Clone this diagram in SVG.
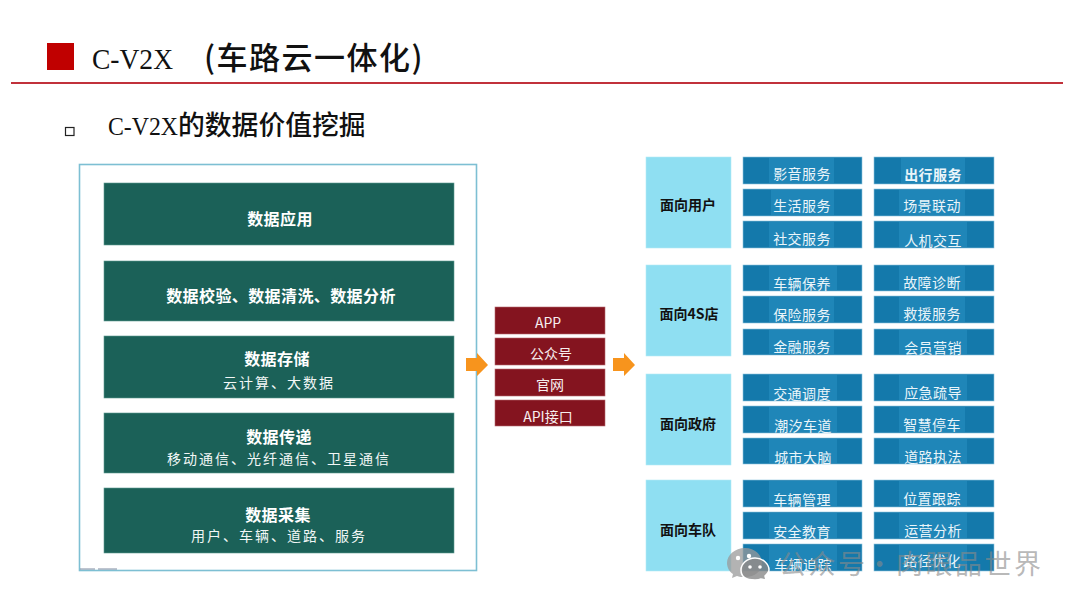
<svg xmlns="http://www.w3.org/2000/svg" width="1080" height="608" viewBox="0 0 1080 608">
<style>
text{font-family:"Noto Sans CJK SC","Liberation Sans",sans-serif;text-anchor:middle}
.mono{font-family:"Liberation Serif","Noto Sans CJK SC",serif;text-anchor:start;fill:#111}
.head{fill:#111;text-anchor:start;font-weight:500}
.green{fill:#1b6158;stroke:#5f9a92;stroke-width:.6}
.gt{fill:#fff;font-size:16px;font-weight:700;letter-spacing:.4px}
.gs{fill:#f2f7f6;font-size:14px;letter-spacing:2px}
.red{fill:#84141f;stroke:#b56a70;stroke-width:.6}
.rt{fill:#f7eeee;font-size:14px}
.aud{fill:#8fdff2;stroke:#b5ebf6;stroke-width:.6}
.at{fill:#111;font-size:14px;font-weight:700}
.svc{fill:#1479ab;stroke:#8cc4dc;stroke-width:.6}
.patch{fill:#1f86b8}
.st{fill:#eaf5fa;font-size:14px;letter-spacing:.4px}
.arrow{fill:#f7941d}
.wm{fill:#8a8a8a;fill-opacity:.62;font-size:27px;letter-spacing:2.500px;text-anchor:start}
</style>
<g id="header">
<rect x="47" y="43" width="27" height="27" fill="#c00000"/>
<text class="mono" x="92" y="69" font-size="29" textLength="81" lengthAdjust="spacingAndGlyphs">C-V2X</text>
<text class="head" x="204" y="69" font-size="31" letter-spacing="1.500">(车路云一体化)</text>
<rect x="11" y="82" width="1052" height="2" fill="#c1313b"/>
<rect x="65.500" y="127.500" width="8.500" height="8" fill="#fff" stroke="#222" stroke-width="1.200"/>
<text class="mono" x="108" y="135" font-size="25" textLength="70" lengthAdjust="spacingAndGlyphs">C-V2X</text>
<text class="head" x="178" y="135" font-size="26.800">的数据价值挖掘</text>
</g>
<g id="frame">
<rect x="79.500" y="164.500" width="397" height="406" fill="#fff" stroke="#7dbfd3" stroke-width="1.600"/>
<path d="M80 569H95M98 569H117" stroke="#7f8aa0" stroke-width="1"/>
</g>
<g id="layer-apply"><rect class="green" x="104" y="183" width="350" height="62"/><text class="gt" x="280" y="225">数据应用</text></g>
<g id="layer-process"><rect class="green" x="104" y="261" width="350" height="60"/><text class="gt" x="281" y="302">数据校验、数据清洗、数据分析</text></g>
<g id="layer-store"><rect class="green" x="104" y="336" width="350" height="62"/><text class="gt" x="277" y="365">数据存储</text><text class="gs" x="279" y="388">云计算、大数据</text></g>
<g id="layer-transfer"><rect class="green" x="104" y="413" width="350" height="60"/><text class="gt" x="279" y="443">数据传递</text><text class="gs" x="279" y="464">移动通信、光纤通信、卫星通信</text></g>
<g id="layer-collect"><rect class="green" x="104" y="488" width="350" height="65"/><text class="gt" x="278" y="521">数据采集</text><text class="gs" x="279" y="541">用户、车辆、道路、服务</text></g>
<g id="connectors">
<path class="arrow" d="M466 358H477V353L488 365L477 376V371H466Z"/>
<path class="arrow" d="M613 358H624V353L635 365L624 376V371H613Z"/>
</g>
<g id="channel-app"><rect class="red" x="495" y="307" width="110" height="27"/><text class="rt" x="548" y="328">APP</text></g>
<g id="channel-wechat"><rect class="red" x="495" y="338" width="110" height="27"/><text class="rt" x="551" y="359">公众号</text></g>
<g id="channel-web"><rect class="red" x="495" y="369" width="110" height="27"/><text class="rt" x="550" y="390">官网</text></g>
<g id="channel-api"><rect class="red" x="495" y="400" width="110" height="26"/><text class="rt" x="548" y="422">API接口</text></g>
<g id="aud-user"><rect class="aud" x="646" y="157" width="85" height="91"/><text class="at" x="688" y="210">面向用户</text></g>
<g id="aud-4s"><rect class="aud" x="646" y="265" width="85" height="91"/><text class="at" x="689" y="319">面向4S店</text></g>
<g id="aud-gov"><rect class="aud" x="646" y="374" width="85" height="91"/><text class="at" x="688" y="429">面向政府</text></g>
<g id="aud-fleet"><rect class="aud" x="646" y="480" width="85" height="91"/><text class="at" x="688" y="535">面向车队</text></g>
<g id="s01"><rect class="svc" x="743" y="157" width="119" height="27"/><rect class="patch" x="769" y="158" width="65" height="25"/><text class="st" x="802" y="179">影音服务</text></g>
<g id="s02"><rect class="svc" x="743" y="189" width="119" height="27"/><rect class="patch" x="771" y="190" width="63" height="25"/><text class="st" x="802" y="211">生活服务</text></g>
<g id="s03"><rect class="svc" x="743" y="221" width="119" height="27"/><rect class="patch" x="769" y="222" width="65" height="25"/><text class="st" x="802" y="244">社交服务</text></g>
<g id="s04"><rect class="svc" x="874" y="157" width="120" height="27"/><rect class="patch" x="901" y="158" width="64" height="25"/><text class="st" x="933" y="180" font-weight="700">出行服务</text></g>
<g id="s05"><rect class="svc" x="874" y="189" width="120" height="27"/><rect class="patch" x="899" y="190" width="66" height="25"/><text class="st" x="932" y="211">场景联动</text></g>
<g id="s06"><rect class="svc" x="874" y="221" width="120" height="27"/><rect class="patch" x="899" y="222" width="68" height="25"/><text class="st" x="933" y="246">人机交互</text></g>
<g id="s07"><rect class="svc" x="743" y="265" width="119" height="26"/><rect class="patch" x="769" y="266" width="68" height="24"/><text class="st" x="802" y="289">车辆保养</text></g>
<g id="s08"><rect class="svc" x="743" y="296" width="119" height="27"/><rect class="patch" x="769" y="297" width="65" height="25"/><text class="st" x="802" y="320">保险服务</text></g>
<g id="s09"><rect class="svc" x="743" y="329" width="119" height="26"/><rect class="patch" x="769" y="330" width="65" height="24"/><text class="st" x="802" y="352">金融服务</text></g>
<g id="s10"><rect class="svc" x="874" y="265" width="120" height="26"/><rect class="patch" x="899" y="266" width="66" height="24"/><text class="st" x="932" y="288">故障诊断</text></g>
<g id="s11"><rect class="svc" x="874" y="296" width="120" height="27"/><rect class="patch" x="899" y="297" width="66" height="25"/><text class="st" x="932" y="319">救援服务</text></g>
<g id="s12"><rect class="svc" x="874" y="329" width="120" height="26"/><rect class="patch" x="899" y="330" width="68" height="24"/><text class="st" x="933" y="353">会员营销</text></g>
<g id="s13"><rect class="svc" x="743" y="374" width="119" height="27"/><rect class="patch" x="769" y="375" width="68" height="25"/><text class="st" x="802" y="399">交通调度</text></g>
<g id="s14"><rect class="svc" x="743" y="406" width="119" height="27"/><rect class="patch" x="769" y="407" width="68" height="25"/><text class="st" x="803" y="431">潮汐车道</text></g>
<g id="s15"><rect class="svc" x="743" y="438" width="119" height="26"/><rect class="patch" x="769" y="439" width="68" height="24"/><text class="st" x="803" y="463">城市大脑</text></g>
<g id="s16"><rect class="svc" x="874" y="374" width="120" height="27"/><rect class="patch" x="899" y="375" width="68" height="25"/><text class="st" x="933" y="398">应急疏导</text></g>
<g id="s17"><rect class="svc" x="874" y="406" width="120" height="27"/><rect class="patch" x="899" y="407" width="66" height="25"/><text class="st" x="932" y="430">智慧停车</text></g>
<g id="s18"><rect class="svc" x="874" y="438" width="120" height="26"/><rect class="patch" x="899" y="439" width="68" height="24"/><text class="st" x="933" y="462">道路执法</text></g>
<g id="s19"><rect class="svc" x="743" y="480" width="119" height="27"/><rect class="patch" x="769" y="481" width="68" height="25"/><text class="st" x="802" y="505">车辆管理</text></g>
<g id="s20"><rect class="svc" x="743" y="512" width="119" height="27"/><rect class="patch" x="769" y="513" width="68" height="25"/><text class="st" x="802" y="537">安全教育</text></g>
<g id="s21"><rect class="svc" x="743" y="544" width="119" height="27"/><rect class="patch" x="769" y="545" width="68" height="25"/><text class="st" x="803" y="570">车辆追踪</text></g>
<g id="s22"><rect class="svc" x="874" y="480" width="120" height="27"/><rect class="patch" x="899" y="481" width="68" height="25"/><text class="st" x="932" y="504">位置跟踪</text></g>
<g id="s23"><rect class="svc" x="874" y="512" width="120" height="27"/><rect class="patch" x="899" y="513" width="68" height="25"/><text class="st" x="933" y="536">运营分析</text></g>
<g id="s24"><rect class="svc" x="874" y="544" width="120" height="27"/><rect class="patch" x="899" y="545" width="68" height="25"/><text class="st" x="932" y="566">路径优化</text></g>
<g id="watermark">
<path d="M745 548C735 548 727 555 727 563C727 568 730 572 733 574L732 578L737 576C739 577 742 577 745 577C755 577 762 571 762 563C762 555 755 548 745 548Z" fill="#9a9a9a" fill-opacity=".75"/>
<path d="M755 558C747 558 741 564 741 570C741 577 747 580 755 580C757 580 759 580 761 579L766 580L765 576C767 574 769 572 769 570C769 564 763 558 755 558Z" fill="#8a8a8a" fill-opacity=".8" stroke="#fff" stroke-width="1.500"/>
<circle cx="738" cy="558" r="2.200" fill="#fff"/><circle cx="749" cy="556" r="2.200" fill="#fff"/><circle cx="750" cy="567" r="1.800" fill="#fff"/><circle cx="760" cy="567" r="1.800" fill="#fff"/>
<text class="wm" x="779" y="574">公众号<tspan x="866">·</tspan><tspan x="896">肉眼品世界</tspan></text>
</g>
</svg>
